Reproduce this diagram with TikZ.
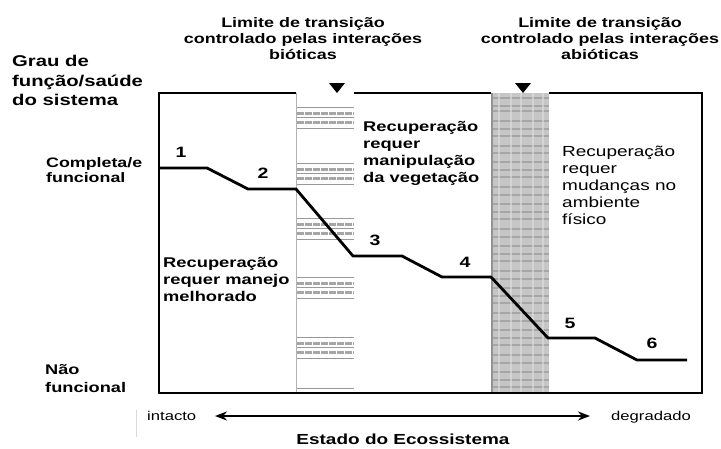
\documentclass[tikz,border=0pt]{standalone}
\usepackage{fontspec}
\setmainfont{Liberation Sans}[FakeStretch=1.3]
\usetikzlibrary{arrows.meta}

\begin{document}
\begin{tikzpicture}[x=1pt, y=-1pt]
    % --- Definitions ---
    \useasboundingbox (0,0) rectangle (721,448);
    % The frame of the diagram
    \coordinate (frame_nw) at (159,93);
    \coordinate (frame_sw) at (159,393);
    \coordinate (frame_se) at (702,393);
    \coordinate (frame_ne) at (702,93);
    % The two transition bands
    \coordinate (biotic_w) at (296,93);
    \coordinate (biotic_e) at (354,93);
    \coordinate (abiotic_w) at (491,93);
    \coordinate (abiotic_e) at (549,93);
    % Corners of the degradation curve
    \coordinate (c0) at (159,168);
    \coordinate (c1) at (207,168);
    \coordinate (c2) at (248,189);
    \coordinate (c3) at (296,189);
    \coordinate (c4) at (353,256);
    \coordinate (c5) at (402,256);
    \coordinate (c6) at (442,277);
    \coordinate (c7) at (491,277);
    \coordinate (c8) at (548,338);
    \coordinate (c9) at (595,338);
    \coordinate (c10) at (637,360);
    \coordinate (c11) at (687,360);
    % Ends of the state axis
    \coordinate (axis_left) at (215,416);
    \coordinate (axis_right) at (590,416);

    % --- Styles ---
    \tikzstyle{frame_line}=[line width=1.6pt, color=black]
    \tikzstyle{curve_line}=[line width=2.8pt, color=black, line join=round]
    \tikzstyle{stripe_thin}=[line width=0.7pt, color=gray!80]
    \tikzstyle{stripe_thick}=[line width=3pt, color=gray!70, dash pattern=on 7pt off 1pt]
    \tikzstyle{axis_arrow}=[
        {Stealth[length=12pt, width=9pt]}-{Stealth[length=12pt, width=9pt]},
        line width=2.6pt
    ]
    \tikzstyle{head_text}=[
        font=\fontsize{13.8}{16}\selectfont\bfseries,
        align=center,
        inner sep=0pt,
        anchor=north
    ]
    \tikzstyle{side_text}=[align=left, inner sep=0pt, anchor=north west]
    \tikzstyle{num_label}=[font=\fontsize{15}{16}\selectfont\bfseries, inner sep=0pt]

    % --- 1. Transition bands ---
    % Biotic limit: striped band
    \draw[line width=1pt, color=gray!60] (biotic_w) -- (biotic_w |- frame_sw);
    \foreach \gy in {107,163,218,277,337} {
        \draw[stripe_thin] (297,\gy) -- (354,\gy);
        \draw[stripe_thick] (297,\gy+6) -- (354,\gy+6);
        \draw[stripe_thin] (297,\gy+10) -- (354,\gy+10);
        \draw[stripe_thick] (297,\gy+15) -- (354,\gy+15);
        \draw[stripe_thin] (297,\gy+21) -- (354,\gy+21);
    }
    \draw[stripe_thin] (297,388) -- (354,388);

    % Abiotic limit: grey checkered band
    \fill[gray!45] (abiotic_w) rectangle (abiotic_e |- frame_se);
    \foreach \hy in {98,106,111,121,129,136,146,153,162,170,177,187,195,204,212,219,229,237,246,254,261,271,279,288,296,303,313,321,330,338,345,355,363,372,380,387} {
        \draw[line width=1.6pt, color=gray!70] (491,\hy) -- (549,\hy);
    }
    \foreach \vx in {499,511,521,533,543} {
        \draw[line width=1.5pt, color=gray!25, opacity=0.6] (\vx,93) -- (\vx,393);
    }
    \draw[line width=1.5pt, color=gray!85] (492,93) -- (492,393);

    % Markers above the bands
    \fill (329,83) -- ++(16,0) -- ++(-8,10) -- cycle;
    \fill (515,83) -- ++(16,0) -- ++(-8,10) -- cycle;

    % --- 2. Frame ---
    \draw[frame_line] (biotic_w) -- (frame_nw) -- (frame_sw) -- (frame_se) -- (frame_ne) -- (abiotic_e);
    \draw[frame_line] (abiotic_w) -- (biotic_e);

    % --- 3. Degradation curve ---
    \draw[curve_line] (c0) -- (c1) -- (c2) -- (c3) -- (c4) -- (c5) -- (c6) -- (c7) -- (c8) -- (c9) -- (c10) -- (c11);

    \node[num_label] (n1) at (181,152) {1};
    \node[num_label] (n2) at (263,173) {2};
    \node[num_label] (n3) at (375,240) {3};
    \node[num_label] (n4) at (465,262) {4};
    \node[num_label] (n5) at (570,323) {5};
    \node[num_label] (n6) at (652,343) {6};

    % --- 4. Headings ---
    \node[head_text] (lim_biotic) at (303,17) {Limite de transição\\controlado pelas interações\\bióticas};
    \node[head_text] (lim_abiotic) at (600,17) {Limite de transição\\controlado pelas interações\\abióticas};

    % --- 5. Axis labels ---
    \node[side_text, font=\fontsize{15.6}{19.5}\selectfont\bfseries] (grau) at (12,55)
        {Grau de\\função/saúde\\do sistema};
    \node[side_text, font=\fontsize{13.7}{15.5}\selectfont\bfseries] (completa) at (46,157)
        {Completa/e\\funcional};
    \node[side_text, font=\fontsize{14}{18}\selectfont\bfseries] (nao) at (45,364)
        {Não\\funcional};

    \node[anchor=base west, inner sep=0pt, font=\fontsize{12.8}{15}\selectfont] (intacto) at (147,420) {intacto};
    \node[anchor=base west, inner sep=0pt, font=\fontsize{12.8}{15}\selectfont] (degradado) at (611,420) {degradado};
    \draw[axis_arrow] (axis_left) -- (axis_right);
    \node[anchor=base, inner sep=0pt, font=\fontsize{14.6}{17}\selectfont\bfseries] (estado) at (403,444) {Estado do Ecossistema};
    \draw[line width=0.8pt, color=gray!30] (136,410) -- (136,437);

    % --- 6. Recovery notes ---
    \node[side_text, font=\fontsize{14.1}{17}\selectfont\bfseries] (manejo) at (163,257)
        {Recuperação\\requer manejo\\melhorado};
    \node[side_text, font=\fontsize{14.1}{17}\selectfont\bfseries] (vegetacao) at (363,121)
        {Recuperação\\requer\\manipulação\\da vegetação};
    \node[side_text, font=\fontsize{14.6}{17}\selectfont] (fisico) at (562,146)
        {Recuperação\\requer\\mudanças no\\ambiente\\físico};

\end{tikzpicture}
\end{document}
